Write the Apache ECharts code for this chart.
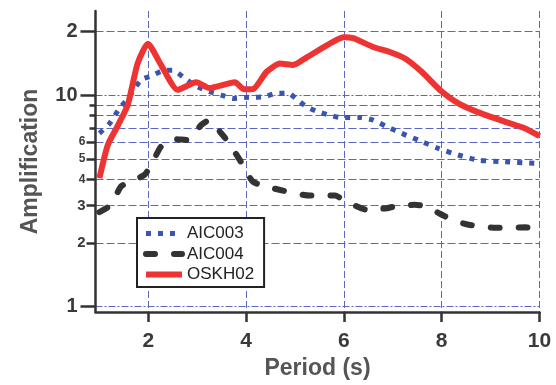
<!DOCTYPE html>
<html><head><meta charset="utf-8">
<script src="https://cdn.jsdelivr.net/npm/echarts@6/dist/echarts.min.js"></script>
<style>html,body{margin:0;padding:0;background:#fff}#c{width:556px;height:385px}</style>
</head><body><div id="c"></div>
<script>
// ---- data ----
const seriesNames = ['AIC003', 'AIC004', 'OSKH02'];

const aic003T = [1.0,1.2,1.41,1.61,1.85,2.09,2.33,2.5,2.71,2.95,3.25,3.49,3.73,3.97,4.2,4.38,4.6,4.86,5.06,5.24,5.44,5.68,5.92,6.33,6.6,6.88,7.18,7.52,7.93,8.34,8.75,9.23,9.91,10.0];
const aic003A = [6.6,7.3,8.65,9.8,11.8,12.4,13.1,13.1,12.2,11.1,10.4,10.0,9.65,9.75,9.78,9.82,10.2,10.2,9.47,8.8,8.4,8.08,7.85,7.85,7.62,7.09,6.6,6.13,5.6,5.21,4.93,4.85,4.76,4.72];

const aic004T = [1.0,1.24,1.44,1.65,1.92,2.06,2.26,2.53,2.81,3.08,3.25,3.49,3.63,3.87,4.14,4.55,4.83,5.3,5.82,5.99,6.47,6.88,7.05,7.45,7.66,8.07,8.21,8.55,9.09,9.71,10.0];
const aic004A = [2.8,3.03,3.7,3.9,4.2,4.67,5.71,6.2,6.13,7.22,7.62,6.6,6.02,4.94,3.9,3.63,3.5,3.35,3.35,3.2,2.87,2.92,2.98,3.03,2.98,2.67,2.57,2.44,2.36,2.37,2.33];

const oskh02T = [1.0,1.17,1.38,1.58,1.78,1.99,2.26,2.6,2.98,3.25,3.77,3.96,4.15,4.42,4.69,4.96,5.24,5.65,5.99,6.19,6.6,6.94,7.25,7.59,8.0,8.34,8.75,9.3,9.71,10.0];
const oskh02A = [4.05,5.8,7.2,9.0,14.1,17.5,13.9,10.6,11.5,10.8,11.5,10.65,10.7,12.9,14.1,13.9,15.1,17.2,18.8,18.6,16.9,16.0,14.9,12.9,10.4,9.14,8.29,7.48,6.96,6.4];

const xTickValues = [2,4,6,8,10];
const yTickValues = [1,2,3,4,5,6,10,20];
const yTickLabels = ['1','2','3','4','5','6','10','2'];
const yDecadeTicks = [1,10,20];
const yMajorTicks = [2,3,4,5,6];
const yMinorTicks = [7,8,9];
const yDashedExtra = [20];
const yDashDotGrid = [1,10];

// ---- chart ----
const X_MIN = 0.92, X_MAX = 10, Y_MIN = 0.943, Y_MAX = 25;
const gridColor = '#5a68c0';
const axisColor = '#333';
const dashed = [8, 3];
const dashDot = [7, 2, 2, 2];
const pair = (t, a) => t.map((v, i) => [v, a[i]]);

function overlayY(values, extra) {
  return Object.assign({
    type: 'log', min: Y_MIN, max: Y_MAX, position: 'left', offset: 0,
    axisLine: { show: false }, axisLabel: { show: false },
    axisTick: { show: false, customValues: values },
    splitLine: { show: false }
  }, extra || {});
}
function labelClass(v) {
  if (v === 1 || v >= 10) return 'big';
  if (v <= 3) return 'mid';
  return 'small';
}

const chart = echarts.init(document.getElementById('c'), null, { renderer: 'canvas' });
chart.setOption({
  animation: false,
  backgroundColor: '#fff',
  textStyle: { fontFamily: 'Liberation Sans, Arial, sans-serif' },
  grid: { left: 95.5, top: 11, width: 444, height: 302 },
  xAxis: {
    type: 'value', min: X_MIN, max: X_MAX,
    axisLine: { show: true, onZero: false, lineStyle: { color: axisColor, width: 2.5 } },
    axisTick: { show: true, customValues: xTickValues, length: 10, lineStyle: { color: axisColor, width: 2.5 } },
    axisLabel: { customValues: xTickValues, margin: 19, color: '#3a3a3a', fontSize: 21, fontWeight: 'bold' },
    splitLine: { show: true, lineStyle: { color: gridColor, width: 1, type: [7, 3] } },
    name: 'Period (s)', nameLocation: 'middle', nameGap: 45,
    nameTextStyle: { fontSize: 23, fontWeight: 'bold', color: '#555' }
  },
  yAxis: [
    {
      type: 'log', min: Y_MIN, max: Y_MAX, position: 'left',
      axisLine: { show: true, lineStyle: { color: axisColor, width: 2.5 } },
      axisTick: { show: true, customValues: yDecadeTicks, length: 15, lineStyle: { color: axisColor, width: 2.5 } },
      axisLabel: {
        customValues: yTickValues, margin: 10, color: '#3a3a3a', fontWeight: 'bold',
        formatter: v => {
          const i = yTickValues.indexOf(Math.round(v));
          return '{' + labelClass(yTickValues[i]) + '|' + yTickLabels[i] + '}';
        },
        rich: {
          big: { fontSize: 20, fontWeight: 'bold', color: '#3a3a3a', padding: [0, 8, 0, 0] },
          mid: { fontSize: 15, fontWeight: 'bold', color: '#3a3a3a' },
          small: { fontSize: 12, fontWeight: 'bold', color: '#3a3a3a' }
        }
      },
      splitLine: { show: false },
      name: 'Amplification', nameLocation: 'middle', nameGap: 53,
      nameTextStyle: { fontSize: 23, fontWeight: 'bold', color: '#555' }
    },
    overlayY(yMajorTicks, {
      axisTick: { show: true, customValues: yMajorTicks, length: 9, lineStyle: { color: axisColor, width: 2.5 } },
      splitLine: { show: true, lineStyle: { color: gridColor, width: 1, type: dashed } } }),
    overlayY(yMinorTicks, {
      axisTick: { show: true, customValues: yMinorTicks, length: 6, lineStyle: { color: axisColor, width: 2.5 } },
      splitLine: { show: true, lineStyle: { color: gridColor, width: 1, type: dashed } } }),
    overlayY(yDashedExtra, { splitLine: { show: true, lineStyle: { color: gridColor, width: 1, type: dashed } } }),
    overlayY(yDashDotGrid, { splitLine: { show: true, lineStyle: { color: gridColor, width: 1, type: dashDot } } })
  ],
  legend: {
    orient: 'vertical', left: 137, top: 218,
    padding: [7, 10, 4, 6], itemGap: 3.5, itemWidth: 36, itemHeight: 14,
    backgroundColor: '#fff', borderColor: '#222', borderWidth: 2,
    textStyle: { fontSize: 17, color: '#222' },
    itemStyle: { opacity: 0 },
    data: [
      { name: seriesNames[0], itemStyle: { opacity: 0 }, lineStyle: { width: 5 } },
      { name: seriesNames[1], itemStyle: { opacity: 0 }, lineStyle: { width: 6 } },
      { name: seriesNames[2], itemStyle: { opacity: 0 }, lineStyle: { width: 6 } }
    ]
  },
  series: [
    { name: seriesNames[0], type: 'line', symbol: 'none', smooth: 0.2, z: 3,
      data: pair(aic003T, aic003A),
      itemStyle: { color: '#3a55b0' },
      lineStyle: { color: '#3a55b0', width: 5, type: [5, 7], cap: 'butt' } },
    { name: seriesNames[1], type: 'line', symbol: 'none', smooth: 0.2, z: 3,
      data: pair(aic004T, aic004A),
      itemStyle: { color: '#333' },
      lineStyle: { color: '#333', width: 6, type: [9, 19], cap: 'round' } },
    { name: seriesNames[2], type: 'line', symbol: 'none', smooth: 0.2, z: 4,
      data: pair(oskh02T, oskh02A),
      itemStyle: { color: '#ee3333' },
      lineStyle: { color: '#ee3333', width: 6 } }
  ]
});
</script></body></html>
